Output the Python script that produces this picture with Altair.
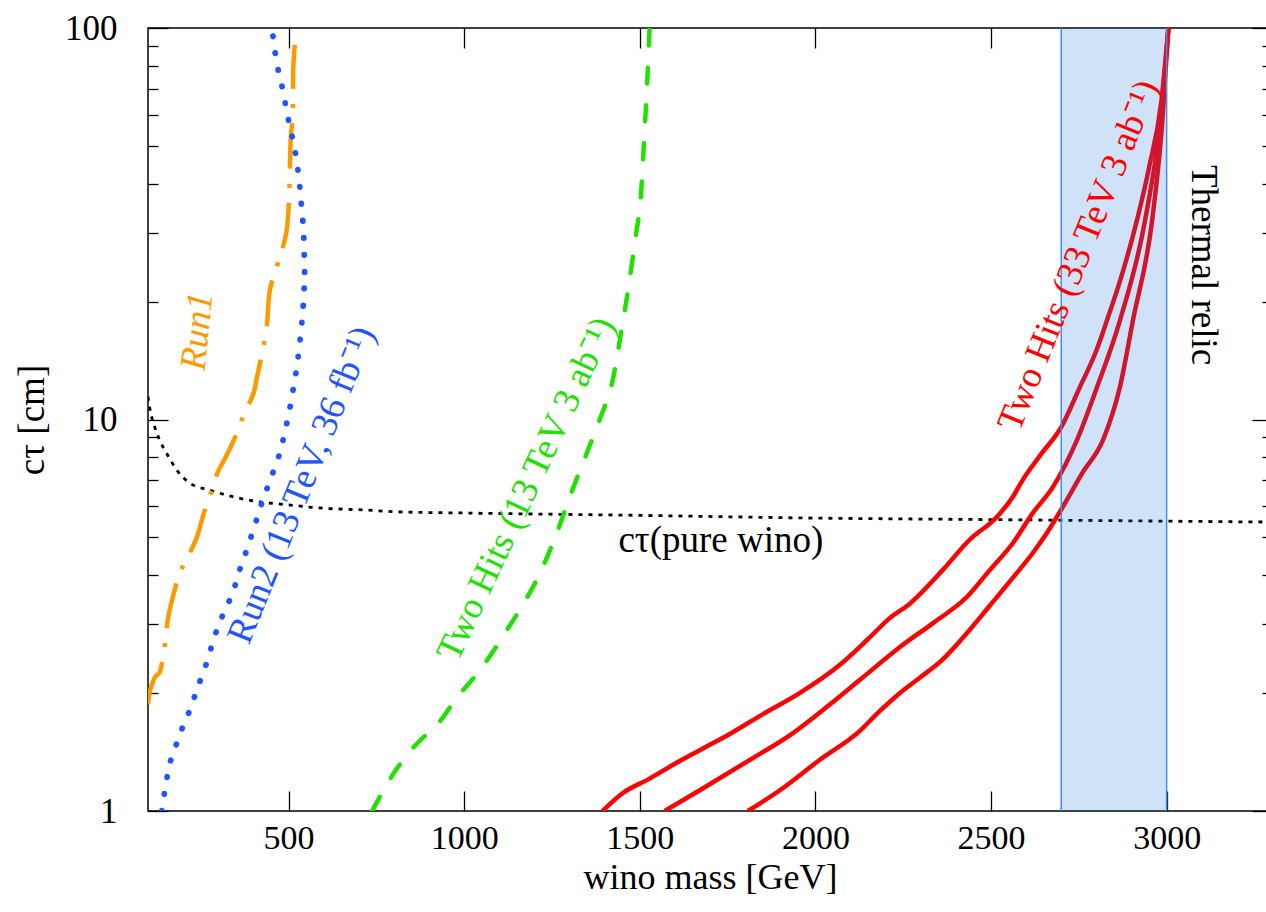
import altair as alt
import pandas as pd

W, H = 1124, 783
FONT = "Liberation Serif"

# ---------------- data ----------------
wino_m = [100, 105, 119, 133, 153, 182, 219, 276, 341, 418, 495, 580, 722, 808,
          1000, 1500, 2000, 2500, 3000, 3300]
wino_ct = [11.44, 10.7, 9.58, 8.87, 8.2, 7.43, 6.88, 6.6, 6.35, 6.16, 6.06, 5.95,
           5.87, 5.81, 5.77, 5.69, 5.6, 5.55, 5.5, 5.47]

run1_m = [100, 104, 111, 120, 132, 140, 150, 156, 170, 191, 216, 239, 260, 282, 299,
          324, 350, 373, 401, 410, 425, 438, 447, 465, 480, 489, 495, 501, 505, 507,
          512, 513, 514, 518]
run1_ct = [1.87, 2.0, 2.1, 2.2, 2.25, 2.39, 2.73, 3.07, 3.5, 4.06, 4.5, 5.0, 5.8, 6.6,
           7.35, 8.1, 9.1, 10.3, 11.7, 12.8, 14.8, 17.2, 21.4, 24.3, 26.8, 28.7, 30.5,
           35.7, 48, 53.4, 59.3, 70, 80.5, 90.5]

run2_m = [139, 153, 165, 182, 200, 219, 240, 267, 290, 315, 341, 360, 381, 405, 424,
          440, 455, 475, 489, 503, 513, 523, 532, 540, 545, 546, 545, 543, 536, 526,
          512, 498, 483, 469, 460, 453]
run2_ct = [1.0, 1.2, 1.35, 1.49, 1.65, 1.81, 2.05, 2.39, 2.8, 3.2, 3.6, 4.1, 4.64, 5.4,
           6.12, 6.7, 7.29, 8.2, 9.23, 10.6, 11.9, 13.5, 15.7, 18.5, 22, 23.2, 26, 30,
           36, 44, 52, 59.3, 70, 79.4, 89, 100]

hl13_m = [738, 800, 870, 923, 980, 1045, 1122, 1170, 1207, 1264, 1301, 1349, 1386,
          1423, 1448, 1471, 1490, 1502, 1514, 1522, 1528]
hl13_ct = [1.0, 1.25, 1.5, 1.66, 1.95, 2.29, 2.9, 3.4, 3.9, 5.13, 6.35, 8.2, 10, 12.6,
           16.9, 22.7, 30, 36, 55, 75, 100]

hl33a_m = [1394, 1451, 1528, 1600, 1671, 1760, 1842, 1955, 2069, 2150, 2210, 2268,
           2363, 2439, 2516, 2562, 2590, 2640, 2700, 2753, 2800, 2830, 2870, 2916,
           2950, 2985, 3005]
hl33a_ct = [1.0, 1.11, 1.21, 1.32, 1.43, 1.58, 1.75, 2.0, 2.36, 2.75, 3.1, 3.38, 4.13,
            4.93, 5.63, 6.34, 7.0, 8.1, 9.56, 12.1, 15, 17.9, 23, 32.4, 44, 65, 100]

hl33b_m = [1571, 1671, 1813, 1927, 2041, 2126, 2240, 2335, 2431, 2497, 2562, 2619,
           2676, 2745, 2802, 2867, 2939, 2982, 3005]
hl33b_ct = [1.0, 1.13, 1.35, 1.56, 1.87, 2.16, 2.62, 3.02, 3.52, 4.13, 4.83, 5.77,
            6.72, 8.87, 12.1, 17.9, 32.4, 58, 100]

hl33c_m = [1808, 1899, 2012, 2126, 2183, 2240, 2300, 2354, 2439, 2497, 2573, 2619,
           2659, 2700, 2760, 2819, 2867, 2904, 2959, 2988, 3005]
hl33c_ct = [1.0, 1.13, 1.35, 1.6, 1.8, 2.0, 2.2, 2.4, 2.9, 3.35, 4.05, 4.56, 5.13,
            5.89, 7.3, 8.87, 12.1, 17.9, 32.4, 58, 100]

band_lo = [2700]
band_hi = [3000]

x_ticks = [500, 1000, 1500, 2000, 2500, 3000]
y_major = [1, 10, 100]
y_minor = [2, 3, 4, 5, 6, 7, 8, 9, 20, 30, 40, 50, 60, 70, 80, 90]

label_text = ["Run1", "Run2 (13 TeV, 36 fb⁻¹)", "Two Hits (13 TeV 3 ab⁻¹)",
              "Two Hits (33 TeV 3 ab⁻¹)", "Thermal relic", "cτ(pure wino)"]
label_m = [241, 538, 1178, 2750, 3103, 1731]
label_ct = [16.8, 6.8, 6.64, 26.2, 24.8, 4.89]
label_angle = [276, 292, 295, 292, 90, 0]
label_color = ["#ff9900", "#2255ff", "#22e000", "#ff0000", "black", "black"]
label_style = ["italic", "normal", "normal", "normal", "normal", "normal"]

# ---------------- chart ----------------
xs = alt.Scale(domain=[100, 3300], nice=False, zero=False)
ys = alt.Scale(type="log", domain=[1, 100], nice=False)


def frame(ms, cts):
    return pd.DataFrame({"m": ms, "ct": cts, "i": list(range(len(ms)))})


def tick_axis(orient, offset, values, size):
    return alt.Axis(orient=orient, offset=offset, values=values, ticks=True,
                    tickSize=size, tickColor="black", tickWidth=1.3, labels=False,
                    domain=False, grid=False, title=None)


x_main = alt.Axis(orient="bottom", values=x_ticks, format="d", ticks=False,
                  tickSize=0, domain=False, grid=False, labelPadding=10,
                  labelFontSize=34, labelFlush=False, labelOverlap=False,
                  title="wino mass [GeV]", titleX=W / 2, titleY=77,
                  titleFontSize=36, titleBaseline="alphabetic", titleAlign="center")
y_main = alt.Axis(orient="left", values=y_major, format="d", ticks=False, tickSize=0,
                  domain=False, grid=False, labelPadding=31, labelFlush=False,
                  labelOverlap=False, labelBaseline="middle", title="cτ [cm]",
                  titleAngle=270, titleX=-105, titleY=H / 2,
                  titleBaseline="alphabetic", titleAlign="center")


def line(ms, cts, color, width, xaxis, yaxis, interp, dash=None, cap="butt"):
    kw = dict(color=color, strokeWidth=width, interpolate=interp, strokeCap=cap,
              strokeJoin="round", clip=True)
    if dash is not None:
        kw["strokeDash"] = dash
    return alt.Chart(frame(ms, cts)).mark_line(**kw).encode(
        x=alt.X("m:Q", scale=xs, axis=xaxis),
        y=alt.Y("ct:Q", scale=ys, axis=yaxis),
        order=alt.Order("i:Q"),
    )


layers = [
    line(wino_m, wino_ct, "black", 2.8, x_main, y_main, "monotone", dash=[4, 6]),
    line(run1_m, run1_ct, "#ff9900", 4.5,
         tick_axis("top", -H, x_ticks, 20), tick_axis("right", -W, y_major, 20),
         "catmull-rom", dash=[46, 15, 4, 15]),
    line(run2_m, run2_ct, "#2255ff", 5.8,
         tick_axis("bottom", -H, x_ticks, 20), tick_axis("left", -W, y_major, 20),
         "catmull-rom", dash=[0.5, 16.5], cap="round"),
    line(hl13_m, hl13_ct, "#22e000", 4.5, None, tick_axis("right", -W, y_minor, 10),
         "monotone", dash=[16, 22], cap="round"),
    line(hl33a_m, hl33a_ct, "#ff0000", 4.5, None, tick_axis("left", -W, y_minor, 10),
         "monotone"),
    line(hl33b_m, hl33b_ct, "#ff0000", 4.5, None, None, "monotone"),
    line(hl33c_m, hl33c_ct, "#ff0000", 4.5, None, None, "monotone"),
]

band_df = pd.DataFrame({"lo": band_lo, "hi": band_hi})
layers.append(
    alt.Chart(band_df).mark_rect(color="#146edc", opacity=0.2).encode(
        x=alt.X("lo:Q", scale=xs, axis=None), x2="hi:Q")
)
edge_df = pd.DataFrame({"e": band_lo + band_hi})
layers.append(
    alt.Chart(edge_df).mark_rule(color="#3d8ef0", strokeWidth=1.5).encode(
        x=alt.X("e:Q", scale=xs, axis=None))
)

for t, m, c, a, col, st in zip(label_text, label_m, label_ct, label_angle,
                               label_color, label_style):
    df = pd.DataFrame({"m": [m], "ct": [c], "t": [t]})
    layers.append(
        alt.Chart(df).mark_text(font=FONT, fontSize=37, fontStyle=st, color=col,
                                angle=a, align="center", baseline="middle").encode(
            x=alt.X("m:Q", scale=xs, axis=None),
            y=alt.Y("ct:Q", scale=ys, axis=None),
            text="t:N",
        )
    )

chart = (
    alt.layer(*layers)
    .resolve_axis(x="independent", y="independent")
    .properties(
        width=W,
        height=H,
        autosize=alt.AutoSizeParams(type="none"),
        padding={"left": 148, "top": 28, "right": -6, "bottom": 95},
        background="white",
    )
    .configure_view(stroke="black", strokeWidth=1.5)
    .configure_axis(labelFont=FONT, labelFontSize=35, labelColor="black",
                    titleFont=FONT, titleFontSize=37, titleFontWeight="normal",
                    titleColor="black")
)

chart.save("out.html", embed_options={"renderer": "svg", "actions": False})
